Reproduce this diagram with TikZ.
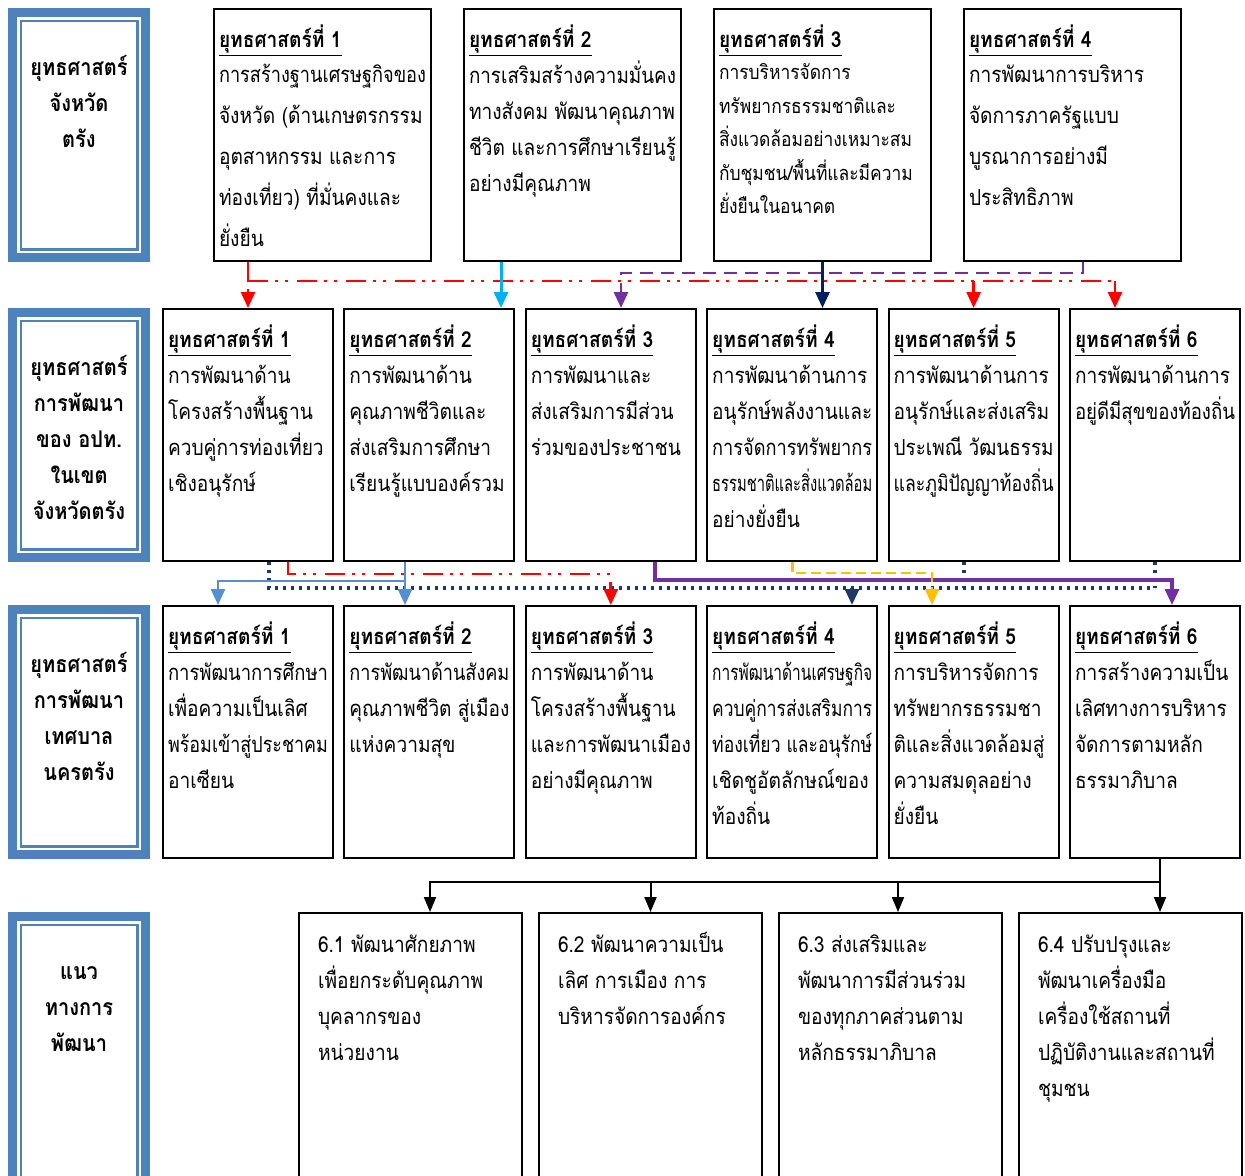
\documentclass[tikz,border=0pt]{standalone}
\usepackage{fontspec,etoolbox}
\setmainfont[Script=Thai,FakeStretch=0.87]{Loma}
\usetikzlibrary{positioning,arrows.meta}

\definecolor{sideblue}{HTML}{4F81BD}
\definecolor{cyanline}{HTML}{00B0F0}
\definecolor{purpline}{HTML}{7030A0}
\definecolor{navyline}{HTML}{002060}
\definecolor{dotnavy}{HTML}{1F3864}
\definecolor{lightline}{HTML}{558ED5}
\definecolor{yellline}{HTML}{FFC000}

% one text line, squeezed when it is wider than the cell
\newsavebox\linebox
\newcommand{\fl}[1]{\leavevmode\sbox\linebox{#1}%
  \ifdim\wd\linebox>\linewidth\resizebox{\linewidth}{\height}{\usebox\linebox}\else\usebox\linebox\fi\par}
\newcommand{\titl}[1]{\rule{0pt}{19pt}\underline{\textbf{ยุทธศาสตร์ที่ #1}}\par}
% #1 skip, #2 size, #3 gap after title, #4 number, #5 lines
\newcommand{\cellA}[5]{\parbox[c][126pt][t]{103.5pt}{\fontsize{11}{18}\selectfont\titl{#4}\vspace{#3}%
  \fontsize{#2}{#1}\selectfont\forcsvlist{\fl}{#5}}}
\newcommand{\cellB}[2]{\parbox[c][126pt][t]{80pt}{\fontsize{11}{18}\selectfont\titl{#1}\forcsvlist{\fl}{#2}}}
\newcommand{\cellC}[1]{\parbox[c][150pt][t]{92.5pt}{\fontsize{11}{18}\selectfont\rule{0pt}{19.5pt}\forcsvlist{\fl}{#1}}}
\newcommand{\sidetxt}[2]{\parbox[c][#1][t]{66.5pt}{\centering\fontsize{11.5}{18}\selectfont\bfseries\rule{0pt}{31.25pt}#2}}

\begin{document}
\begin{tikzpicture}[x=0.5pt,y=-0.5pt,>={Triangle[length=8pt,width=7pt]},
    box/.style={draw,line width=1pt,inner ysep=0pt,inner xsep=2.5pt,anchor=north west},
    wide/.style={box,inner xsep=9.5pt},
    side/.style={draw=sideblue,line width=4.5pt,inner sep=0pt,anchor=north west},
    redline/.style={red,line width=1.4pt,dash pattern=on 10pt off 3.5pt on 1.5pt off 3.5pt on 1.5pt off 4.5pt},
    cyanl/.style={cyanline,line width=1.5pt},
    navyl/.style={navyline,line width=1.4pt},
    purpd/.style={purpline,line width=1.4pt,dash pattern=on 6.5pt off 4pt},
    purps/.style={purpline,line width=1.6pt},
    dotn/.style={dotnavy,line width=1.6pt,dash pattern=on 1.6pt off 2.4pt},
    lightl/.style={lightline,line width=1.2pt},
    yelld/.style={yellline,line width=1.4pt,dash pattern=on 5pt off 2.5pt},
    blk/.style={black,line width=1pt,>={Triangle[length=7.5pt,width=6pt]}}]
\useasboundingbox (0,0) rectangle (1245,1175);

% left column
\node[side] (s1) at (8,8) {\sidetxt{122.5pt}{ยุทธศาสตร์\\จังหวัด\\ตรัง}};
\node[side] (s2) at (8,308) {\sidetxt{122.5pt}{ยุทธศาสตร์\\การพัฒนา\\ของ อปท.\\ในเขต\\จังหวัดตรัง}};
\node[side] (s3) at (8,605) {\sidetxt{122.5pt}{ยุทธศาสตร์\\การพัฒนา\\เทศบาล\\นครตรัง}};
\node[side] (s4) at (8,912) {\sidetxt{150pt}{แนว\\ทางการ\\พัฒนา}};
\foreach \s in {s1,s2,s3,s4}
  \draw[sideblue,line width=1.2pt] ([shift={(12.7,12.7)}]\s.north west) rectangle ([shift={(-12.7,-12.7)}]\s.south east);

% province
\node[box] (r1a) at (213,8) {\cellA{20.5pt}{11}{-3pt}{1}{การสร้างฐานเศรษฐกิจของ,จังหวัด (ด้านเกษตรกรรม,อุตสาหกรรม และการ,ท่องเที่ยว) ที่มั่นคงและ,ยั่งยืน}};
\node[box,right=15.5pt of r1a] (r1b) {\cellA{18pt}{11}{0pt}{2}{การเสริมสร้างความมั่นคง,ทางสังคม พัฒนาคุณภาพ,ชีวิต และการศึกษาเรียนรู้,อย่างมีคุณภาพ}};
\node[box,right=15.5pt of r1b] (r1c) {\cellA{16.75pt}{10}{-0.5pt}{3}{การบริหารจัดการ,ทรัพยากรธรรมชาติและ,สิ่งแวดล้อมอย่างเหมาะสม,กับชุมชน/พื้นที่และมีความ,ยั่งยืนในอนาคต}};
\node[box,right=15.5pt of r1c] (r1d) {\cellA{20.5pt}{11}{-3pt}{4}{การพัฒนาการบริหาร,จัดการภาครัฐแบบ,บูรณาการอย่างมี,ประสิทธิภาพ}};

% local government
\node[box] (r2a) at (162,308) {\cellB{1}{การพัฒนาด้าน,โครงสร้างพื้นฐาน,ควบคู่การท่องเที่ยว,เชิงอนุรักษ์}};
\node[box,right=4.7pt of r2a] (r2b) {\cellB{2}{การพัฒนาด้าน,คุณภาพชีวิตและ,ส่งเสริมการศึกษา,เรียนรู้แบบองค์รวม}};
\node[box,right=4.7pt of r2b] (r2c) {\cellB{3}{การพัฒนาและ,ส่งเสริมการมีส่วน,ร่วมของประชาชน}};
\node[box,right=4.7pt of r2c] (r2d) {\cellB{4}{การพัฒนาด้านการ,อนุรักษ์พลังงานและ,การจัดการทรัพยากร,ธรรมชาติและสิ่งแวดล้อม,อย่างยั่งยืน}};
\node[box,right=4.7pt of r2d] (r2e) {\cellB{5}{การพัฒนาด้านการ,อนุรักษ์และส่งเสริม,ประเพณี วัฒนธรรม,และภูมิปัญญาท้องถิ่น}};
\node[box,right=4.7pt of r2e] (r2f) {\cellB{6}{การพัฒนาด้านการ,อยู่ดีมีสุขของท้องถิ่น}};

% municipality
\node[box] (r3a) at (162,605) {\cellB{1}{การพัฒนาการศึกษา,เพื่อความเป็นเลิศ,พร้อมเข้าสู่ประชาคม,อาเซียน}};
\node[box,right=4.7pt of r3a] (r3b) {\cellB{2}{การพัฒนาด้านสังคม,คุณภาพชีวิต สู่เมือง,แห่งความสุข}};
\node[box,right=4.7pt of r3b] (r3c) {\cellB{3}{การพัฒนาด้าน,โครงสร้างพื้นฐาน,และการพัฒนาเมือง,อย่างมีคุณภาพ}};
\node[box,right=4.7pt of r3c] (r3d) {\cellB{4}{การพัฒนาด้านเศรษฐกิจ,ควบคู่การส่งเสริมการ,ท่องเที่ยว และอนุรักษ์,เชิดชูอัตลักษณ์ของ,ท้องถิ่น}};
\node[box,right=4.7pt of r3d] (r3e) {\cellB{5}{การบริหารจัดการ,ทรัพยากรธรรมชา,ติและสิ่งแวดล้อมสู่,ความสมดุลอย่าง,ยั่งยืน}};
\node[box,right=4.7pt of r3e] (r3f) {\cellB{6}{การสร้างความเป็น,เลิศทางการบริหาร,จัดการตามหลัก,ธรรมาภิบาล}};

% guidelines
\node[wide] (r4a) at (298,912) {\cellC{6.1 พัฒนาศักยภาพ,เพื่อยกระดับคุณภาพ,บุคลากรของ,หน่วยงาน}};
\node[wide,right=7.5pt of r4a] (r4b) {\cellC{6.2 พัฒนาความเป็น,เลิศ การเมือง การ,บริหารจัดการองค์กร}};
\node[wide,right=7.5pt of r4b] (r4c) {\cellC{6.3 ส่งเสริมและ,พัฒนาการมีส่วนร่วม,ของทุกภาคส่วนตาม,หลักธรรมาภิบาล}};
\node[wide,right=7.5pt of r4c] (r4d) {\cellC{6.4 ปรับปรุงและ,พัฒนาเครื่องมือ,เครื่องใช้สถานที่,ปฏิบัติงานและสถานที่,ชุมชน}};

% bends and bus lines
\coordinate (xa) at (501,0);
\coordinate (xb) at (621,0);
\coordinate (xc) at (1083,0);
\coordinate (xd) at (1115,0);
\coordinate (xe) at (269,0);
\coordinate (xf) at (964,0);
\coordinate (xg) at (852,0);
\coordinate (xh) at (405,0);
\coordinate (xi) at (218,0);
\coordinate (xj) at (288,0);
\coordinate (xk) at (655,0);
\coordinate (xl) at (1172,0);
\coordinate (xm) at (932,0);
\coordinate (xn) at (1160,0);
\coordinate (xo) at (430,0);
\coordinate (xq) at (898,0);
\coordinate (yp) at (0,273);
\coordinate (yr) at (0,281);
\coordinate (yy) at (0,573);
\coordinate (yr2) at (0,574);
\coordinate (yq) at (0,580);
\coordinate (yb) at (0,581);
\coordinate (yn) at (0,588);
\coordinate (yk) at (0,882);

% province -> local government
\draw[purpd,->] (xc |- r1d.south) |- (xb |- yp) -- (xb |- r2c.north);
\draw[redline,->] (r1a.south -| r2a.north) -- (r2a.north);
\draw[redline] (r2a.north |- yr) -- (xd |- yr);
\draw[redline,->] (r2e.north |- yr) -- (r2e.north);
\draw[redline,->] (xd |- yr) -- (xd |- r2f.north);
\draw[cyanl,->] (xa |- r1b.south) -- (xa |- r2b.north);
\draw[navyl,->] (r1c.south) -- (r1c.south |- r2d.north);

% local government -> municipality
\draw[dotn] (xe |- r2a.south) |- (r2f.south |- yn);
\draw[dotn] (xf |- r2e.south) -- (xf |- yn);
\draw[dotn] (r2f.south) -- (r2f.south |- yn);
\draw[dotn,->] (xg |- yn) -- (xg |- r3d.north);
\draw[lightl,->] (xh |- r2b.south) -- (xh |- r3b.north);
\draw[lightl,->] (xh |- yb) -| (xi |- r3a.north);
\draw[redline,->] (xj |- r2a.south) |- (r3c.north |- yr2) -- (r3c.north);
\draw[purps,->] (xk |- r2c.south) |- (xl |- yq) -- (xl |- r3f.north);
\draw[yelld,->] (r2d.south) |- (xm |- yy) -- (xm |- r3e.north);

% municipality -> guidelines
\draw[blk,->] (xn |- r3f.south) -- (xn |- r4d.north);
\draw[blk,->] (xn |- yk) -| (xo |- r4a.north);
\draw[blk,->] (xq |- yk) -- (xq |- r4c.north);
\draw[blk,->] (r4b.north |- yk) -- (r4b.north);
\end{tikzpicture}
\end{document}
